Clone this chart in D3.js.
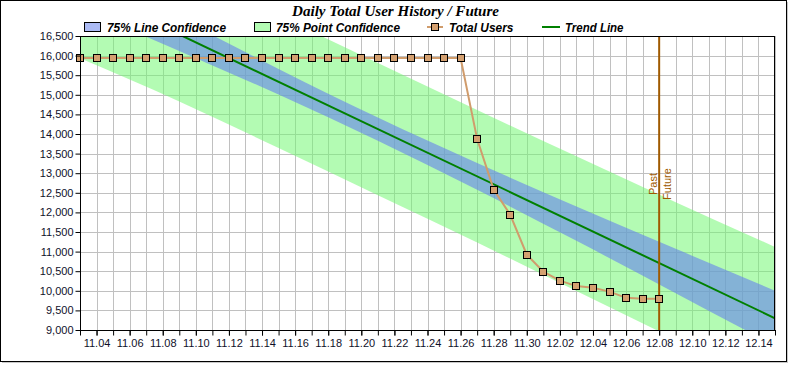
<!DOCTYPE html>
<html><head><meta charset="utf-8">
<script src="https://cdn.jsdelivr.net/npm/d3@7"></script>
<style>body{margin:0;background:#fff;} svg{display:block;}</style>
</head><body><svg id="chart" width="790" height="365"></svg>
<script>
// ---------- data ----------
const userDates = ["11.03","11.04","11.05","11.06","11.07","11.08","11.09","11.10","11.11","11.12",
  "11.13","11.14","11.15","11.16","11.17","11.18","11.19","11.20","11.21","11.22","11.23","11.24",
  "11.25","11.26","11.27","11.28","11.29","11.30","12.01","12.02","12.03","12.04","12.05","12.06",
  "12.07","12.08"];
const userValues = [15940,15940,15940,15940,15940,15940,15940,15940,15940,15940,15940,15940,
  15940,15940,15940,15940,15940,15940,15940,15940,15940,15940,15940,15940,
  13870,12580,11940,10920,10490,10260,10120,10080,9980,9820,9800,9800];
const trendDates = ["11.03","12.15"];
const trendValues = [17745, 9300];
const bandDates = ["11.03","11.09","11.15","11.21","11.27","12.03","12.09","12.15"];
const lineConfUpper  = [18290,16960,15660,14420,13260,12150,11070,10004];
const lineConfLower  = [17200,16120,15005,13830,12580,11275,9940,8596];
const pointConfUpper = [19560,18250,17020,15810,14610,13430,12260,11120];
const pointConfLower = [15930,14830,13640,12440,11230,9995,8755,7480];
const yTickValues = [9000,9500,10000,10500,11000,11500,12000,12500,13000,13500,14000,14500,15000,15500,16000,16500];
const xTickLabels = ["11.04","11.06","11.08","11.10","11.12","11.14","11.16","11.18","11.20","11.22",
  "11.24","11.26","11.28","11.30","12.02","12.04","12.06","12.08","12.10","12.12","12.14"];
const xDomain = ["11.03","12.15"];
const yDomain = [9000, 16500];
const markerDate = "12.08";
const markerLabels = ["Past","Future"];
const titleText = "Daily Total User History / Future";
const legendLabels = ["75% Line Confidence","75% Point Confidence","Total Users","Trend Line"];

// ---------- setup ----------
const svg = d3.select("#chart");
const L = 80, R = 775, T = 36, B = 330;
const parse = d3.timeParse("%m.%d");
const fmt = d3.timeFormat("%m.%d");
const x = d3.scaleTime().domain(xDomain.map(parse)).range([L, R]);
const y = d3.scaleLinear().domain(yDomain).range([B, T]);
const sans = "'Liberation Sans', Arial, sans-serif";
const textColor = "#10102a";
const blueFill = "rgb(104,132,236)";

svg.append("rect").attr("x",0).attr("y",0).attr("width",790).attr("height",365).attr("fill","#fff");
// outer frame with slight shadow
svg.append("rect").attr("x",2).attr("y",2).attr("width",786).attr("height",361).attr("fill","#c8c8c8");
svg.append("rect").attr("x",0.5).attr("y",0.5).attr("width",786).attr("height",361)
  .attr("fill","#fff").attr("stroke","#000").attr("stroke-width",1);

// clip
svg.append("clipPath").attr("id","plotclip").append("rect")
  .attr("x",L).attr("y",T).attr("width",R-L).attr("height",B-T);

// plot background
svg.append("rect").attr("x",L).attr("y",T).attr("width",R-L).attr("height",B-T).attr("fill","#fff");

// grid
const allDays = d3.timeDay.range(parse(xDomain[0]), d3.timeDay.offset(parse(xDomain[1]),1));
const grid = svg.append("g").attr("stroke","#c0c0c0").attr("stroke-width",1);
allDays.forEach(d => {
  const xx = Math.round(x(d)) + 0.5;
  grid.append("line").attr("x1",xx).attr("x2",xx).attr("y1",T).attr("y2",B);
});
yTickValues.forEach(v => {
  const yy = Math.round(y(v)) + 0.5;
  grid.append("line").attr("x1",L).attr("x2",R).attr("y1",yy).attr("y2",yy);
});

const plot = svg.append("g").attr("clip-path","url(#plotclip)");
const bandData = bandDates.map((d,i) => ({d: parse(d), lu: lineConfUpper[i], ll: lineConfLower[i], pu: pointConfUpper[i], pl: pointConfLower[i]}));
plot.append("path").datum(bandData)
  .attr("d", d3.area().curve(d3.curveNatural).x(d=>x(d.d)).y0(d=>y(d.pl)).y1(d=>y(d.pu)))
  .attr("fill","rgb(114,247,114)").attr("fill-opacity",0.54);
plot.append("path").datum(bandData)
  .attr("d", d3.area().curve(d3.curveNatural).x(d=>x(d.d)).y0(d=>y(d.ll)).y1(d=>y(d.lu)))
  .attr("fill",blueFill).attr("fill-opacity",0.62);

// trend line
const trendData = trendDates.map((d,i)=>({d:parse(d), v:trendValues[i]}));
plot.append("path").datum(trendData)
  .attr("d", d3.line().x(d=>x(d.d)).y(d=>y(d.v)))
  .attr("fill","none").attr("stroke","#008000").attr("stroke-width",2);

// past/future marker
const mx = x(parse(markerDate));
svg.append("line").attr("x1",mx).attr("x2",mx).attr("y1",T).attr("y2",B)
  .attr("stroke","#a05a00").attr("stroke-width",2);
const my = 184;
svg.append("text").attr("transform",`translate(${mx-2},${my}) rotate(-90)`)
  .attr("text-anchor","middle").attr("font-family",sans).attr("font-size",11)
  .attr("fill","#a05a00").text(markerLabels[0]);
svg.append("text").attr("transform",`translate(${mx+12},${my}) rotate(-90)`)
  .attr("text-anchor","middle").attr("font-family",sans).attr("font-size",11)
  .attr("fill","#a05a00").text(markerLabels[1]);

// users series
const userData = userDates.map((d,i)=>({d:parse(d), v:userValues[i]}));
svg.append("path").datum(userData)
  .attr("d", d3.line().x(d=>x(d.d)).y(d=>y(d.v)))
  .attr("fill","none").attr("stroke","#d09c6c").attr("stroke-width",2);
svg.append("g").selectAll("rect").data(userData).join("rect")
  .attr("x",d=>Math.round(x(d.d))-3.5).attr("y",d=>Math.round(y(d.v))-3.5)
  .attr("width",7).attr("height",7)
  .attr("fill","#d4a070").attr("stroke","#000").attr("stroke-width",1);

// plot border
svg.append("rect").attr("x",L+0.5).attr("y",T+0.5).attr("width",R-L-1).attr("height",B-T)
  .attr("fill","none").attr("stroke","#000").attr("stroke-width",1);

// axes
const yAxis = svg.append("g").attr("transform",`translate(${L+0.5},0)`)
  .call(d3.axisLeft(y).tickValues(yTickValues).tickFormat(d3.format(",")).tickSize(5).tickPadding(2));
yAxis.select(".domain").remove();
yAxis.selectAll("text").attr("font-family",sans).attr("font-size",11).attr("fill",textColor);

const xMinor = svg.append("g").attr("transform",`translate(0,${B+0.5})`)
  .call(d3.axisBottom(x).tickValues(allDays).tickFormat("").tickSize(5));
xMinor.select(".domain").remove();
const xAxis = svg.append("g").attr("transform",`translate(0,${B+0.5})`)
  .call(d3.axisBottom(x).tickValues(xTickLabels.map(parse)).tickFormat(fmt).tickSize(5).tickPadding(4));
xAxis.select(".domain").remove();
xAxis.selectAll("text").attr("font-family",sans).attr("font-size",11).attr("fill",textColor);
svg.append("line").attr("x1",L).attr("x2",R+1).attr("y1",B+0.5).attr("y2",B+0.5).attr("stroke","#000");

// title
svg.append("text").attr("x",395.5).attr("y",15.5).attr("text-anchor","middle")
  .attr("font-family","'Liberation Serif','Times New Roman',serif").attr("font-weight","bold")
  .attr("font-style","italic").attr("font-size",15).attr("fill","#000")
  .attr("textLength",207).attr("lengthAdjust","spacingAndGlyphs").text(titleText);

// legend
const lg = svg.append("g").attr("font-family",sans).attr("font-weight","bold")
  .attr("font-style","italic").attr("font-size",12).attr("fill","#000");
lg.append("rect").attr("x",84.5).attr("y",22.5).attr("width",16).attr("height",9)
  .attr("fill",blueFill).attr("fill-opacity",0.55).attr("stroke","#000");
lg.append("text").attr("x",107).attr("y",31.5).attr("textLength",119).attr("lengthAdjust","spacingAndGlyphs").text(legendLabels[0]);
lg.append("rect").attr("x",254.5).attr("y",22.5).attr("width",16).attr("height",9)
  .attr("fill","rgb(114,247,114)").attr("fill-opacity",0.54).attr("stroke","#000");
lg.append("text").attr("x",276).attr("y",31.5).attr("textLength",124).attr("lengthAdjust","spacingAndGlyphs").text(legendLabels[1]);
lg.append("line").attr("x1",427).attr("x2",443).attr("y1",27).attr("y2",27).attr("stroke","#d09c6c").attr("stroke-width",2);
lg.append("rect").attr("x",431.5).attr("y",23.5).attr("width",7).attr("height",7)
  .attr("fill","#d4a070").attr("stroke","#000");
lg.append("text").attr("x",449).attr("y",31.5).attr("textLength",64.5).attr("lengthAdjust","spacingAndGlyphs").text(legendLabels[2]);
lg.append("line").attr("x1",542).attr("x2",560).attr("y1",27).attr("y2",27).attr("stroke","#008000").attr("stroke-width",2);
lg.append("text").attr("x",565).attr("y",31.5).attr("textLength",58.5).attr("lengthAdjust","spacingAndGlyphs").text(legendLabels[3]);
</script></body></html>
